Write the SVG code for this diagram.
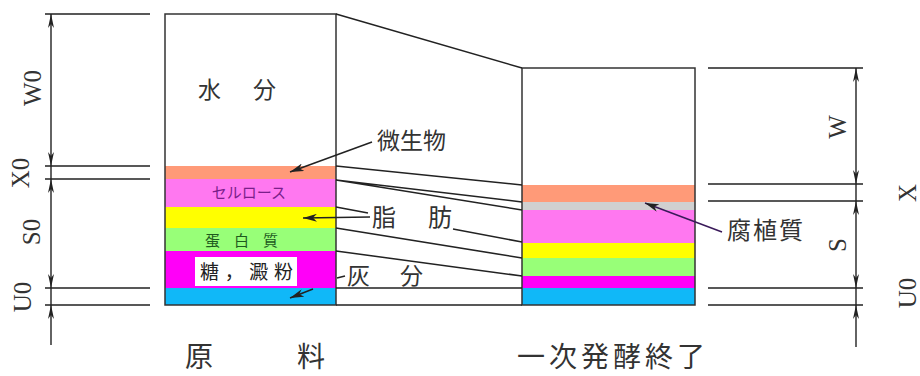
<svg xmlns="http://www.w3.org/2000/svg" width="920" height="376" viewBox="0 0 920 376">
<style>
.ln{stroke:#222;stroke-width:1.5;fill:none}
.dim{stroke:#222;stroke-width:1.4;fill:none}
.out{fill:none;stroke:#333;stroke-width:1.5}
.jp{font-family:"Noto Sans CJK JP","Noto Sans CJK SC",sans-serif;fill:#333}
.lat{font-family:"Liberation Serif",serif;font-size:25px;fill:#333;text-anchor:middle;dominant-baseline:central}
.or{fill:#FF9A78}.pk{fill:#FF78F0}.ye{fill:#FFFF00}.gr{fill:#98FF78}.mg{fill:#FF00F8}.bl{fill:#10B8F8}.gy{fill:#D0D0D0}
</style>
<defs>
<marker id="da" markerWidth="14" markerHeight="6" refX="14" refY="3" orient="auto-start-reverse" markerUnits="userSpaceOnUse"><path d="M0,0 L14,3 L0,6 L4,3 Z" fill="#222"/></marker>
<marker id="la" markerWidth="14" markerHeight="8" refX="14" refY="4" orient="auto" markerUnits="userSpaceOnUse"><path d="M0,0 L14,4 L0,8 L4,4 Z" fill="#222"/></marker>
</defs>

<g id="dim-left">
<path class="dim" d="M45,14H150M45,166H150M45,179H150M45,288H150M45,305H150"/>
<line class="dim" x1="51" y1="14" x2="51" y2="166" marker-start="url(#da)" marker-end="url(#da)"/>
<line class="dim" x1="51" y1="166" x2="51" y2="179"/>
<line class="dim" x1="51" y1="179" x2="51" y2="288" marker-start="url(#da)" marker-end="url(#da)"/>
<line class="dim" x1="51" y1="288" x2="51" y2="305"/>
<line class="dim" x1="51" y1="305" x2="51" y2="345" marker-start="url(#da)"/>
<text class="lat" transform="translate(32,88) rotate(-90)">W0</text>
<text class="lat" transform="translate(20,173) rotate(-90)">X0</text>
<text class="lat" transform="translate(31,232) rotate(-90)">S0</text>
<text class="lat" transform="translate(22,297) rotate(-90)">U0</text>
</g>

<g id="raw">
<rect x="165" y="14" width="171" height="152" fill="#fff"/>
<rect class="or" x="165" y="166" width="171" height="13"/>
<rect class="pk" x="165" y="179" width="171" height="28"/>
<rect class="ye" x="165" y="207" width="171" height="21"/>
<rect class="gr" x="165" y="228" width="171" height="23"/>
<rect class="mg" x="165" y="251" width="171" height="37"/>
<rect class="bl" x="165" y="288" width="171" height="17"/>
<rect class="out" x="165" y="14" width="171" height="291"/>
<text class="jp" x="198" y="98" font-size="23">水</text>
<text class="jp" x="253" y="98" font-size="23">分</text>
<text class="jp" x="249" y="198" font-size="15" text-anchor="middle" style="fill:#7a1f8a">セルロース</text>
<text class="jp" x="205" y="246" font-size="15" textLength="73" style="fill:#1e5a1e">蛋白質</text>
<rect x="195" y="257" width="102" height="29" fill="#fff"/>
<text class="jp" x="200" y="279" font-size="19" textLength="93" style="fill:#222">糖，澱粉</text>
<text class="jp" x="185" y="367" font-size="28">原</text>
<text class="jp" x="297" y="367" font-size="28">料</text>
</g>

<g id="fermented">
<rect x="522" y="68" width="173" height="117" fill="#fff"/>
<rect class="or" x="522" y="185" width="173" height="17"/>
<rect class="gy" x="522" y="202" width="173" height="8"/>
<rect class="pk" x="522" y="210" width="173" height="33"/>
<rect class="ye" x="522" y="243" width="173" height="15"/>
<rect class="gr" x="522" y="258" width="173" height="18"/>
<rect class="mg" x="522" y="276" width="173" height="12"/>
<rect class="bl" x="522" y="288" width="173" height="17"/>
<rect class="out" x="522" y="68" width="173" height="237"/>
<text class="jp" x="517" y="367" font-size="28" textLength="188">一次発酵終了</text>
</g>

<g id="dim-right">
<path class="dim" d="M708,68H863M708,184H863M708,201H863M708,288H863M708,305H863"/>
<line class="dim" x1="856" y1="68" x2="856" y2="184" marker-start="url(#da)" marker-end="url(#da)"/>
<line class="dim" x1="856" y1="184" x2="856" y2="201"/>
<line class="dim" x1="856" y1="201" x2="856" y2="288" marker-start="url(#da)" marker-end="url(#da)"/>
<line class="dim" x1="856" y1="288" x2="856" y2="305"/>
<line class="dim" x1="856" y1="305" x2="856" y2="347" marker-start="url(#da)"/>
<text class="lat" transform="translate(837,127) rotate(-90)">W</text>
<text class="lat" transform="translate(837,245) rotate(-90)">S</text>
<text class="lat" transform="translate(907,193) rotate(-90)">X</text>
<text class="lat" transform="translate(907,293) rotate(-90)">U0</text>
</g>

<g id="connectors">
<path class="ln" d="M336,14L522,68M336,166L522,185M336,180L522,202M336,180L522,210M336,207L368,213M453,229L522,242M336,228L522,258M336,251L522,276M336,288H522M336,305H522"/>
<line class="ln" x1="372" y1="142" x2="290" y2="172" marker-end="url(#la)"/>
<line class="ln" x1="370" y1="217" x2="303" y2="218" marker-end="url(#la)"/>
<line class="ln" x1="345" y1="276" x2="337" y2="278"/>
<line class="ln" x1="313" y1="289" x2="290" y2="298" marker-end="url(#la)"/>
<line class="ln" x1="722" y1="232" x2="645" y2="203" marker-end="url(#la)" style="stroke:#3a1a5a"/>
</g>

<g id="labels">
<text class="jp" x="377" y="149" font-size="23">微生物</text>
<text class="jp" x="372" y="226" font-size="24">脂</text>
<text class="jp" x="428" y="226" font-size="24">肪</text>
<text class="jp" x="347" y="284" font-size="23">灰</text>
<text class="jp" x="400" y="284" font-size="23">分</text>
<text class="jp" x="727" y="239" font-size="24" textLength="76">腐植質</text>
</g>
</svg>
